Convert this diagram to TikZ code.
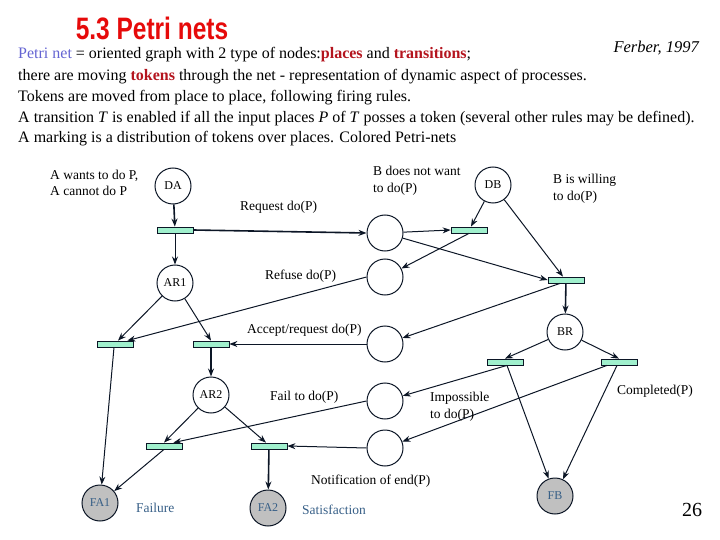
\documentclass[tikz,border=0pt]{standalone}
\usepackage{fontspec}
\setmainfont{Liberation Serif}
\newfontfamily\titlefont{Liberation Sans}
\usetikzlibrary{arrows.meta,calc}
\definecolor{mint}{RGB}{160,240,205}
\definecolor{lin}{RGB}{12,22,38}
\definecolor{gfill}{RGB}{192,192,192}
\definecolor{bgtext}{RGB}{55,95,135}
\definecolor{titred}{RGB}{230,10,10}
\definecolor{dred}{RGB}{180,20,30}
\definecolor{pblue}{RGB}{100,100,210}
\tikzset{
  place/.style={circle,draw=lin,line width=1pt,minimum size=36pt,inner sep=0pt,font=\fontsize{12}{14}\selectfont},
  final/.style={place,fill=gfill,text=bgtext},
  trans/.style={rectangle,draw=lin,line width=0.8pt,fill=mint,minimum width=36pt,minimum height=6pt,inner sep=0pt},
  arc/.style={draw=lin,line width=1pt,-{Stealth[length=8pt,width=6pt]}},
  thickarc/.style={arc,line width=1.6pt},
  lbl/.style={font=\fontsize{13.5}{16.5}\selectfont,inner sep=0pt,anchor=west,align=left},
  body/.style={font=\fontsize{16}{20}\selectfont,inner sep=0pt,anchor=base west}
}
\begin{document}
\begin{tikzpicture}[x=1pt,y=-1pt]
\useasboundingbox (0,0) rectangle (720,540);
% title and text
\node[inner sep=0pt,text=titred] (title) at (152,28) {\scalebox{0.79}[1]{\titlefont\bfseries\fontsize{31}{31}\selectfont 5.3 Petri nets}};
\node[inner sep=0pt,anchor=east,font=\fontsize{16.5}{20}\selectfont\itshape] (ferber) at (699,48) {Ferber, 1997};
\node[body] (l1) at (18,59) {\textcolor{pblue}{Petri net} = oriented graph with 2 type of nodes:\textcolor{dred}{\textbf{places}} and \textcolor{dred}{\textbf{transitions}};};
\node[body] (l2) at (18,81) {there are moving \textcolor{dred}{\textbf{tokens}} through the net - representation of dynamic aspect of processes.};
\node[body] (l3) at (18,102) {Tokens are moved from place to place, following firing rules.};
\node[body] (l4) at (18,123) {A transition \textit{T} is enabled if all the input places \textit{P} of \textit{T} posses a token (several other rules may be defined).};
\node[body] (l5) at (18,143) {A marking is a distribution of tokens over places. Colored Petri-nets};
% places
\node[place] (DA) at (173,186) {DA};
\node[place] (AR1) at (175,283) {AR1};
\node[place] (AR2) at (211,395) {AR2};
\node[final] (FA1) at (100,503) {FA1};
\node[final] (FA2) at (268,508) {FA2};
\node[place] (P1) at (385,233) {};
\node[place] (P2) at (385,277) {};
\node[place] (P3) at (385,344) {};
\node[place] (P4) at (385,401) {};
\node[place] (P5) at (385,448) {};
\node[place] (DB) at (493,185) {DB};
\node[place] (BR) at (565,332) {BR};
\node[final] (FB) at (555,496) {FB};
% transitions
\node[trans] (T1) at (175,230) {};
\node[trans] (T2) at (115,344) {};
\node[trans] (T3) at (211,344) {};
\node[trans] (T4) at (164,446) {};
\node[trans] (T5) at (269,446) {};
\node[trans] (TB1) at (469,230) {};
\node[trans] (TB2) at (566,280) {};
\node[trans] (TB3) at (505,362) {};
\node[trans] (TB4) at (619,362) {};
% arcs
\draw[thickarc] (DA) -- (T1);
\draw[thickarc] (T1.east) -- (P1.west);
\draw[arc] (T1) -- (AR1);
\draw[arc] (AR1) -- ($(T2.north)+(3,0)$);
\draw[arc] (AR1) -- (T3.north);
\draw[thickarc] (T3) -- (AR2);
\draw[arc] (AR2) -- (T4.north);
\draw[arc] (AR2) -- ($(T5.north)+(-3,0)$);
\draw[arc] ($(T2.south)+(-1,0)$) -- (FA1);
\draw[arc] (T4.south) -- (FA1);
\draw[thickarc] (T5) -- (FA2);
\draw[arc] (P1) -- (TB1.west);
\draw[arc] (DB) -- ($(TB1.north)+(2,0)$);
\draw[arc] (TB1.south) -- (P2);
\draw[arc] (P1) -- (TB2.west);
\draw[arc] (DB) -- ($(TB2.north)+(-3,0)$);
\draw[thickarc] (TB2) -- (BR);
\draw[arc] ($(TB2.south)+(-6,0)$) -- (P3);
\draw[arc] (P2.west) -- ($(T2.north east)+(-6,0)$);
\draw[arc] (P3.west) -- (T3.east);
\draw[arc] (BR) -- (TB3.north);
\draw[arc] (BR) -- (TB4.north);
\draw[arc] ($(TB3.south)+(2,0)$) -- (P4);
\draw[arc] ($(TB4.south)+(-12,0)$) -- (P5);
\draw[arc] ($(TB3.south)+(2,0)$) -- (FB);
\draw[arc] ($(TB4.south)+(-2,0)$) -- (FB);
\draw[arc] (P4.west) -- ($(T4.north east)+(-9,0)$);
\draw[arc] (P5.west) -- (T5.east);
% labels
\node[lbl] (la) at (50,183) {A wants to do P,\\A cannot do P};
\node[lbl] (lb) at (373,181) {B does not want\\to do(P)};
\node[lbl] (lc) at (553,189) {B is willing\\to do(P)};
\node[lbl] (req) at (240,207) {Request do(P)};
\node[lbl] (ref) at (265,276) {Refuse do(P)};
\node[lbl] (acc) at (247,330) {Accept/request do(P)};
\node[lbl] (fail) at (270,397) {Fail to do(P)};
\node[lbl] (imp) at (430,407) {Impossible\\to do(P)};
\node[lbl] (notif) at (311,481) {Notification of end(P)};
\node[lbl] (comp) at (617,391) {Completed(P)};
\node[lbl,text=bgtext] (failure) at (136,508) {Failure};
\node[lbl,text=bgtext] (satis) at (302,510) {Satisfaction};
\node[inner sep=0pt,font=\fontsize{20}{22}\selectfont] (num) at (692,510) {26};
\end{tikzpicture}
\end{document}
